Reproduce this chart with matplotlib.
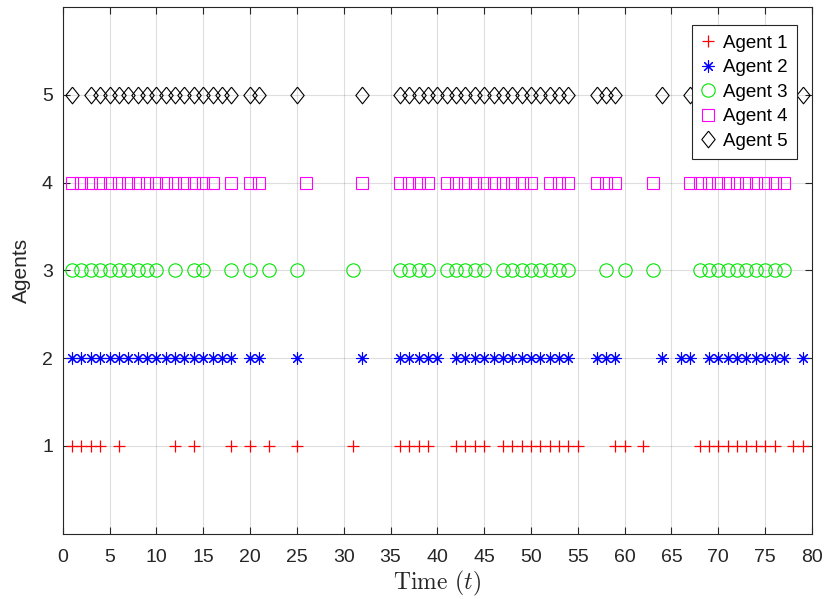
import matplotlib
matplotlib.use("Agg")
import matplotlib.pyplot as plt

# time steps at which each agent shows up
agent1 = [1, 2, 3, 4, 6, 12, 14, 18, 20, 22, 25, 31, 36, 37, 38, 39,
          42, 43, 44, 45, 47, 48, 49, 50, 51, 52, 53, 54, 55, 59, 60, 62,
          68, 69, 70, 71, 72, 73, 74, 75, 76, 78, 79]
agent2 = [1, 2, 3, 4, 5, 6, 7, 8, 9, 10, 11, 12, 13, 14, 15, 16, 17, 18,
          20, 21, 25, 32, 36, 37, 38, 39, 40, 42, 43, 44, 45, 46, 47, 48,
          49, 50, 51, 52, 53, 54, 57, 58, 59, 64, 66, 67,
          69, 70, 71, 72, 73, 74, 75, 76, 77, 79]
agent3 = [1, 2, 3, 4, 5, 6, 7, 8, 9, 10, 12, 14, 15, 18, 20, 22, 25, 31,
          36, 37, 38, 39, 41, 42, 43, 44, 45, 47, 48, 49, 50, 51, 52, 53,
          54, 58, 60, 63, 68, 69, 70, 71, 72, 73, 74, 75, 76, 77]
agent4 = [1, 2, 3, 4, 5, 6, 7, 8, 9, 10, 11, 12, 13, 14, 15, 16, 18, 20,
          21, 26, 32, 36, 37, 38, 39, 41, 42, 43, 44, 45, 46, 47, 48, 49,
          50, 52, 53, 54, 57, 58, 59, 63, 67, 68, 69, 70, 71, 72, 73, 74,
          75, 76, 77]
agent5 = [1, 3, 4, 5, 6, 7, 8, 9, 10, 11, 12, 13, 14, 15, 16, 17, 18, 20,
          21, 25, 32, 36, 37, 38, 39, 40, 41, 42, 43, 44, 45, 46, 47, 48,
          49, 50, 51, 52, 53, 54, 57, 58, 59, 64, 67, 79]

agents = [agent1, agent2, agent3, agent4, agent5]
labels = ["Agent 1", "Agent 2", "Agent 3", "Agent 4", "Agent 5"]

plt.rcParams['font.family'] = ['Liberation Sans', 'DejaVu Sans']
plt.rcParams['mathtext.fontset'] = 'cm'

axcol = (0.15, 0.15, 0.15)
diamond = [(0, 1), (0.8, 0), (0, -1), (-0.8, 0), (0, 1)]
styles = [
  dict(marker='+', color='red', ms=8.6, mew=0.9),
  dict(marker=(8, 2, 0), color='blue', ms=8.6, mew=0.8),
  dict(marker='o', color=(0, 0.9, 0), ms=9.6, mew=0.8, mfc='none'),
  dict(marker='s', color='magenta', ms=8.2, mew=0.8, mfc='none'),
  dict(marker=diamond, color='black', ms=12, mew=0.8, mfc='none'),
]

fig = plt.figure(figsize=(8.24, 5.99), dpi=100)
ax = fig.add_axes([0.0761, 0.1093, 0.9093, 0.8790])

for i, (times, lab, st) in enumerate(zip(agents, labels, styles)):
  ax.plot(times, [i + 1] * len(times), linestyle='none', label=lab, **st)

ax.set_xlim(0, 80)
ax.set_ylim(0, 6)
ax.set_xticks(range(0, 81, 5))
ax.set_yticks([1, 2, 3, 4, 5])

ax.grid(True, color=axcol, alpha=0.15, linewidth=0.8)
ax.set_axisbelow(True)
for s in ax.spines.values():
  s.set_color(axcol)
  s.set_linewidth(0.8)
ax.tick_params(direction='in', length=5, width=0.8, color=axcol,
               labelcolor=axcol, labelsize=14, top=True, right=True)
ax.tick_params(axis='x', pad=11)
ax.tick_params(axis='y', pad=7)

ax.set_ylabel("Agents", fontsize=15, color=axcol, labelpad=8)
ax.set_xlabel(r"Time ($t$)", fontsize=17, family='cmr10', color=axcol, labelpad=2)

leg = ax.legend(loc='upper right', bbox_to_anchor=(0.9797, 0.9658),
                fontsize=13.5, fancybox=False, framealpha=1, edgecolor=axcol,
                borderpad=0.5, labelspacing=0.4, handlelength=0.7,
                handletextpad=0.45, borderaxespad=0)
leg.get_frame().set_linewidth(0.8)
for t in leg.get_texts():
  t.set_color('black')

fig.savefig("out.png", dpi=100)
